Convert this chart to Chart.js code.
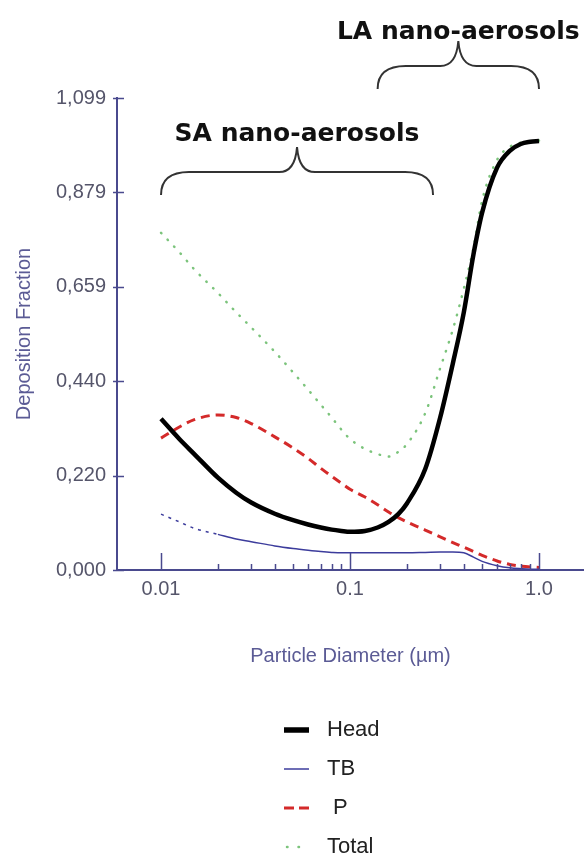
<!DOCTYPE html>
<html>
<head>
<meta charset="utf-8">
<script src="https://cdn.jsdelivr.net/npm/chart.js@4.4.1/dist/chart.umd.min.js"></script>
<style>
  html, body { margin: 0; padding: 0; background: #fff; }
  #chart { display: block; }
</style>
</head>
<body>
<canvas id="chart" width="584" height="861"></canvas>
<script>
// particle diameter (µm) shared by all curves
const diameters = [0.01, 0.0125, 0.015, 0.02, 0.025, 0.03, 0.04, 0.05, 0.06, 0.07, 0.08, 0.09, 0.1,
  0.12, 0.14, 0.16, 0.18, 0.2, 0.25, 0.3, 0.35, 0.4, 0.45, 0.5, 0.6, 0.7, 0.8, 0.9, 1.0];

const headValues = [0.352, 0.305, 0.27, 0.215, 0.18, 0.157, 0.131, 0.116, 0.106, 0.099, 0.094, 0.091, 0.089,
  0.091, 0.099, 0.112, 0.13, 0.155, 0.235, 0.355, 0.481, 0.6, 0.735, 0.832, 0.937, 0.976, 0.992, 0.997, 0.999];
const tbValues = [0.13, 0.112, 0.097, 0.083, 0.072, 0.066, 0.056, 0.05, 0.046, 0.043, 0.041, 0.040, 0.040,
  0.040, 0.040, 0.040, 0.040, 0.040, 0.041, 0.042, 0.042, 0.04, 0.03, 0.02, 0.01, 0.005, 0.003, 0.002, 0.002];
const pValues = [0.307, 0.333, 0.35, 0.361, 0.355, 0.341, 0.31, 0.284, 0.26, 0.237, 0.218, 0.202, 0.188,
  0.17, 0.152, 0.135, 0.122, 0.112, 0.093, 0.077, 0.064, 0.053, 0.043, 0.034, 0.021, 0.013, 0.009, 0.007, 0.006];
const totalValues = [0.785, 0.74, 0.70, 0.645, 0.60, 0.565, 0.508, 0.46, 0.42, 0.385, 0.355, 0.327, 0.305,
  0.282, 0.27, 0.264, 0.275, 0.293, 0.365, 0.47, 0.56, 0.655, 0.75, 0.86, 0.955, 0.985, 0.995, 0.998, 1.0];

const yTickValues = [0, 0.2198, 0.4396, 0.6594, 0.8792, 1.099];
const yTickLabels = ["0,000", "0,220", "0,440", "0,659", "0,879", "1,099"];
const xTickValues = [0.01, 0.1, 1];
const xTickLabels = ["0.01", "0.1", "1.0"];

// size ranges marked with braces above the curves
const rangeLabels = ["SA nano-aerosols", "LA nano-aerosols"];
const rangeFrom = [0.01, 0.14];
const rangeTo = [0.275, 1.0];
const rangeLevel = [0.873, 1.12];
const rangeLabelLevel = [1.015, 1.251];

const axisColor = "#4a4a8e";

const toPoints = vals => diameters.map((d, i) => ({ x: d, y: vals[i] }));

// upward ticks on the log axis, ticks across the y axis
const axisTicks = {
  id: "axisTicks",
  afterDraw(chart) {
    const ctx = chart.ctx;
    const xs = chart.scales.x, ys = chart.scales.y;
    const y0 = ys.getPixelForValue(0);
    ctx.save();
    ctx.strokeStyle = axisColor;
    ctx.lineWidth = 1.5;
    ctx.beginPath();
    for (let dec = 0.01; dec < 1.5; dec *= 10) {
      for (let m = 1; m <= 9; m++) {
        const v = dec * m;
        if (v > 1.0001) break;
        const px = Math.round(xs.getPixelForValue(v)) + 0.5;
        const len = m === 1 ? 17 : 6;
        ctx.moveTo(px, y0);
        ctx.lineTo(px, y0 - len);
      }
    }
    const x0 = xs.left;
    yTickValues.forEach(v => {
      const py = Math.round(ys.getPixelForValue(v)) + 0.5;
      ctx.moveTo(x0 - 4, py);
      ctx.lineTo(x0 + 7, py);
    });
    ctx.stroke();
    ctx.restore();
  }
};

function drawBrace(ctx, xa, xb, yEnd) {
  const xm = (xa + xb) / 2;
  const yh = yEnd - 23;
  const yp = yh - 25;
  const r = 28;
  ctx.beginPath();
  ctx.moveTo(xa, yEnd);
  ctx.quadraticCurveTo(xa, yh, xa + r, yh);
  ctx.lineTo(xm - 18, yh);
  ctx.quadraticCurveTo(xm - 2, yh, xm, yp);
  ctx.quadraticCurveTo(xm + 2, yh, xm + 18, yh);
  ctx.lineTo(xb - r, yh);
  ctx.quadraticCurveTo(xb, yh, xb, yEnd);
  ctx.stroke();
  return xm;
}

const rangeBraces = {
  id: "rangeBraces",
  afterDraw(chart) {
    const ctx = chart.ctx;
    const xs = chart.scales.x, ys = chart.scales.y;
    ctx.save();
    ctx.strokeStyle = "#333";
    ctx.lineWidth = 2;
    ctx.fillStyle = "#111";
    ctx.font = "bold 25px 'DejaVu Sans'";
    ctx.textAlign = "center";
    ctx.textBaseline = "middle";
    rangeLabels.forEach((label, i) => {
      const xm = drawBrace(ctx, xs.getPixelForValue(rangeFrom[i]), xs.getPixelForValue(rangeTo[i]),
        ys.getPixelForValue(rangeLevel[i]));
      ctx.fillText(label, xm, ys.getPixelForValue(rangeLabelLevel[i]));
    });
    ctx.restore();
  }
};

// vertical legend under the axis title
const sideLegend = {
  id: "sideLegend",
  afterDraw(chart) {
    const ctx = chart.ctx;
    ctx.save();
    ctx.font = "22px 'Liberation Sans'";
    ctx.textBaseline = "middle";
    ctx.textAlign = "left";
    chart.data.datasets.forEach((ds, i) => {
      const y = 730 + i * 39;
      ctx.strokeStyle = ds.borderColor;
      ctx.lineWidth = ds.borderWidth + (i === 0 ? 1 : 0);
      ctx.lineCap = ds.borderCapStyle || "butt";
      ctx.setLineDash(i === 2 ? [10, 5] : (i === 3 ? [0.5, 11] : []));
      ctx.beginPath();
      ctx.moveTo(i === 3 ? 287 : 284, y);
      ctx.lineTo(309, y);
      ctx.stroke();
      ctx.setLineDash([]);
      ctx.fillStyle = "#222";
      ctx.fillText(ds.label, i === 2 ? 333 : 327, y);
    });
    ctx.restore();
  }
};

new Chart(document.getElementById("chart"), {
  type: "line",
  data: {
    datasets: [
      { label: "Head", data: toPoints(headValues), borderColor: "#000", borderWidth: 4.5 },
      { label: "TB", data: toPoints(tbValues), borderColor: "#3c3c9c", borderWidth: 1.5,
        segment: { borderDash: c => c.p0.parsed.x < 0.018 ? [3, 5] : undefined } },
      { label: "P", data: toPoints(pValues), borderColor: "#d42a2a", borderWidth: 3, borderDash: [9, 6] },
      { label: "Total", data: toPoints(totalValues), borderColor: "#7cc47c", borderWidth: 2.5,
        borderDash: [0.5, 9], borderCapStyle: "round" }
    ]
  },
  options: {
    responsive: false,
    animation: false,
    layout: { padding: { top: 98, bottom: 191, left: 0, right: 0 } },
    elements: {
      point: { radius: 0 },
      line: { cubicInterpolationMode: "monotone", fill: false }
    },
    plugins: { legend: { display: false }, tooltip: { enabled: false } },
    scales: {
      x: {
        type: "logarithmic",
        min: 0.005849,
        max: 1.73,
        grid: { display: false, tickLength: 0 },
        border: { display: true, color: axisColor, width: 2 },
        afterBuildTicks: s => { s.ticks = xTickValues.map(v => ({ value: v })); },
        afterFit: s => { s.height = 100; },
        ticks: {
          autoSkip: false,
          maxRotation: 0,
          padding: 7,
          color: "#55556a",
          font: { family: "'Liberation Sans'", size: 20 },
          callback: (v, i) => xTickLabels[i]
        },
        title: {
          display: true,
          text: "Particle Diameter (µm)",
          color: "#5b5b95",
          font: { family: "'Liberation Sans'", size: 20 },
          padding: { top: 0, bottom: 2 }
        }
      },
      y: {
        min: 0,
        max: 1.099,
        grid: { display: false, tickLength: 0 },
        border: { display: true, color: axisColor, width: 2 },
        afterBuildTicks: s => { s.ticks = yTickValues.map(v => ({ value: v })); },
        afterFit: s => { s.width = 117; },
        ticks: {
          padding: 11,
          color: "#55556a",
          font: { family: "'Liberation Sans'", size: 20 },
          callback: (v, i) => yTickLabels[i]
        },
        title: {
          display: true,
          text: "Deposition Fraction",
          color: "#5b5b95",
          font: { family: "'Liberation Sans'", size: 20 },
          padding: { top: 12, bottom: 0 }
        }
      }
    }
  },
  plugins: [axisTicks, rangeBraces, sideLegend]
});
</script>
</body>
</html>
